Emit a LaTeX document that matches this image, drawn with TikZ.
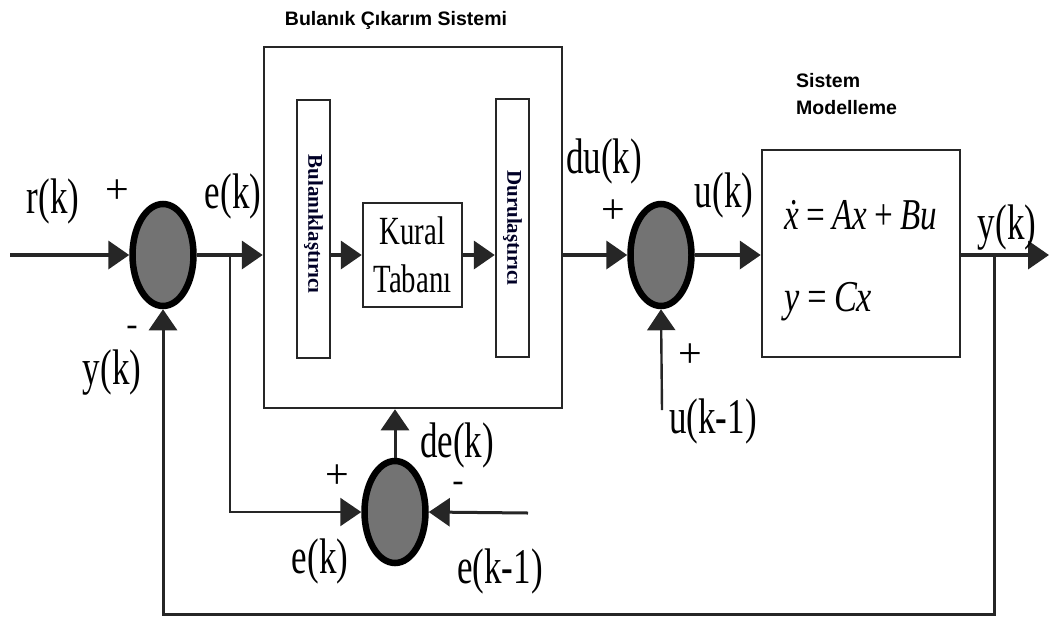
\documentclass[tikz,border=0pt]{standalone}
\usepackage{fontspec}
\usepackage{graphicx}
\setmainfont{Liberation Serif}
\newfontfamily\sansfont{Liberation Sans}
\newcommand\cnd[1]{\scalebox{0.7}[1]{#1}}
\usetikzlibrary{shapes.geometric,arrows.meta}
\begin{document}
\begin{tikzpicture}[x=1pt,y=-1pt,
  sum/.style={ellipse,draw=black,line width=6.5pt,fill=black!55,minimum width=61pt,minimum height=102pt,inner sep=0pt},
  blk/.style={draw=black!85,line width=2.5pt,fill=white,inner sep=0pt},
  tip/.style={-{Triangle[length=21pt,width=28pt]}},
  arr/.style={line width=3.8pt,draw=black!85,tip},
  thin/.style={line width=2.4pt,draw=black!85,tip},
  lbl/.style={font=\fontsize{50}{50}\selectfont,inner sep=0pt},
  sgn/.style={font=\fontsize{42}{42}\selectfont,inner sep=0pt},
  mns/.style={font=\fontsize{34}{34}\selectfont,inner sep=0pt,text height=11pt,text depth=0pt},
  ttl/.style={font=\sansfont\bfseries\fontsize{19.5}{27}\selectfont,inner sep=0pt}]
\useasboundingbox (0,0) rectangle (1049,622);
% blocks
\node[blk,minimum width=298pt,minimum height=361pt] (big) at (413,227.5) {};
\node[blk,minimum width=33pt,minimum height=258pt] (fz) at (313.5,229) {};
\node[rotate=-90,font=\bfseries\fontsize{21}{21}\selectfont,text=black!85!blue] (fzt) at (313.5,224) {Bulanıklaştırıcı};
\node[blk,minimum width=99pt,minimum height=104pt,align=center,font=\fontsize{40}{48}\selectfont] (kb) at (412.5,255) {\scalebox{0.72}[1]{Kural}\\\scalebox{0.72}[1]{Tabanı}};
\node[blk,minimum width=33pt,minimum height=258pt] (dz) at (512.5,228) {};
\node[rotate=-90,font=\bfseries\fontsize{21}{21}\selectfont,text=black!85!blue] (dzt) at (512.5,228) {Durulaştırıcı};
\node[blk,minimum width=198pt,minimum height=207pt] (sys) at (861,253.5) {};
\node[font=\itshape\fontsize{44}{44}\selectfont,anchor=west,inner sep=0pt] (eq1) at (784,215) {\scalebox{0.75}[1]{\.{x}\,=\,Ax\,+\,Bu}};
\node[font=\itshape\fontsize{44}{44}\selectfont,anchor=west,inner sep=0pt] (eq2) at (784,302) {\scalebox{0.78}[1]{y\,=\,Cx}};
% summing junctions
\node[sum] (s1) at (163,255) {};
\node[sum] (s2) at (661,255) {};
\node[sum] (s3) at (395,512) {};
% coordinates
\coordinate (in) at (10,255);
\coordinate (b1) at (230,255);
\coordinate (b2) at (994,255);
\coordinate (fb) at (994,614);
\coordinate (out) at (1049,255);
\coordinate (uk1) at (662,410);
\coordinate (ek1) at (528,513);
% connectors
\draw[arr] (in) -- (s1.west);
\draw[arr] (s1.east) -- (s1.east -| big.west);
\draw[arr] (fz.east |- kb.west) -- (kb.west);
\draw[arr] (kb.east) -- (kb.east -| dz.west);
\draw[arr] (big.east |- s2.west) -- (s2.west);
\draw[arr] (s2.east) -- (s2.east -| sys.west);
\draw[arr] (sys.east |- out) -- (out);
\draw[thin,line width=3pt] (b2) -- (fb) -| (s1.south);
\draw[thin] (uk1) -- (s2.south);
\draw[thin] (b1) |- (s3.west);
\draw[thin,line width=3pt] (ek1) -- (s3.east);
\draw[thin,line width=3pt] (s3.north) -- (s3.north |- big.south);
% labels
\node[lbl] (lr) at (53,201) {\cnd{r(k)}};
\node[sgn] (p1) at (117,192) {+};
\node[lbl] (le1) at (233,196) {\cnd{e(k)}};
\node[mns] (m1) at (132,330) {-};
\node[lbl] (ly1) at (112,373) {\cnd{y(k)}};
\node[lbl] (ldu) at (604,161) {\cnd{du(k)}};
\node[sgn] (p2) at (613,212) {+};
\node[lbl] (lu) at (724,195) {\cnd{u(k)}};
\node[sgn] (p3) at (690,356) {+};
\node[lbl] (luk) at (713,421) {\cnd{u(k-1)}};
\node[lbl] (ly2) at (1007,228) {\cnd{y(k)}};
\node[lbl] (lde) at (457,445) {\cnd{de(k)}};
\node[sgn] (p4) at (337,477) {+};
\node[mns] (m2) at (458,486) {-};
\node[lbl] (le2) at (320,561) {\cnd{e(k)}};
\node[lbl] (lek) at (500,571) {\cnd{e(k-1)}};
\node[ttl] (t1) at (396,20) {Bulanık Çıkarım Sistemi};
\node[ttl,align=left,anchor=north west] (t2) at (796,73) {Sistem\\Modelleme};
\end{tikzpicture}
\end{document}
